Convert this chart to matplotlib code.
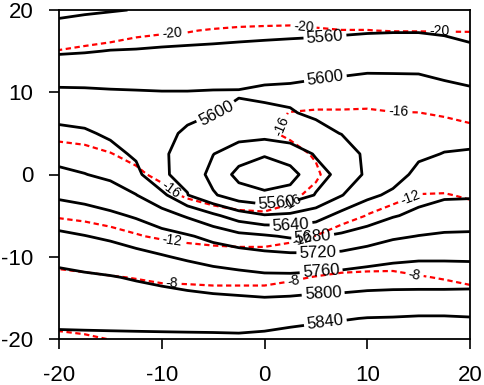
import numpy as np
import matplotlib
matplotlib.use("Agg")
import matplotlib.pyplot as plt

plt.rcParams["font.family"] = ["Liberation Sans", "DejaVu Sans"]
plt.rcParams["axes.unicode_minus"] = False

# grid coordinates (degrees)
lon = [-20, -17.5, -15, -12.5, -10, -7.5, -5, -2.5, 0, 2.5, 5, 7.5, 10, 12.5, 15, 17.5, 20]
lat = [20, 17.5, 15, 12.5, 10, 7.5, 5, 2.5, 0, -2.5, -5, -7.5, -10, -12.5, -15, -17.5, -20]

# geopotential height (gpm), one row per latitude, west -> east
hgt_y20   = [5511, 5515, 5518, 5521, 5524, 5529, 5531, 5532, 5532, 5532, 5533, 5534, 5536, 5537, 5537, 5536, 5530]
hgt_y17_5 = [5533, 5537, 5540, 5542, 5544, 5547, 5549, 5550, 5551, 5552, 5553, 5555, 5557, 5558, 5558, 5555, 5549]
hgt_y15   = [5556, 5558, 5561, 5562, 5564, 5565, 5566, 5568, 5570, 5572, 5574, 5576, 5578, 5578, 5578, 5575, 5568]
hgt_y12_5 = [5581, 5582, 5583, 5583, 5583, 5583, 5584, 5586, 5589, 5592, 5595, 5597, 5599, 5599, 5599, 5594, 5588]
hgt_y10   = [5606, 5605, 5603, 5602, 5601, 5601, 5602, 5602, 5606, 5606, 5608, 5610, 5612, 5610, 5608, 5608, 5605]
hgt_y7_5  = [5628, 5625, 5618, 5612, 5606, 5606, 5601, 5595, 5594, 5598, 5605, 5606, 5614, 5616, 5617, 5619, 5617]
hgt_y5    = [5649, 5645, 5634, 5623, 5607, 5596, 5581, 5578, 5575, 5578, 5590, 5601, 5612, 5618, 5626, 5630, 5630]
hgt_y2_5  = [5667, 5663, 5652, 5634, 5603, 5592, 5561, 5535, 5523, 5540, 5563, 5580, 5608, 5620, 5635, 5641, 5643]
hgt_y0    = [5688, 5681, 5672, 5651, 5603, 5593, 5545, 5510, 5500, 5505, 5548, 5569, 5608, 5627, 5648, 5658, 5659]
hgt_ym2_5 = [5714, 5708, 5698, 5681, 5650, 5601, 5565, 5535, 5526, 5535, 5562, 5598, 5633, 5646, 5667, 5675, 5676]
hgt_ym5   = [5741, 5735, 5727, 5716, 5697, 5675, 5648, 5620, 5603, 5608, 5623, 5653, 5663, 5677, 5689, 5698, 5699]
hgt_ym7_5 = [5767, 5761, 5754, 5744, 5734, 5724, 5709, 5692, 5685, 5675, 5678, 5685, 5696, 5714, 5721, 5725, 5726]
hgt_ym10  = [5791, 5785, 5779, 5771, 5763, 5754, 5745, 5742, 5734, 5731, 5730, 5733, 5745, 5750, 5754, 5754, 5753]
hgt_ym12_5= [5808, 5805, 5802, 5797, 5791, 5784, 5777, 5770, 5767, 5767, 5771, 5775, 5776, 5782, 5783, 5783, 5783]
hgt_ym15  = [5821, 5819, 5817, 5814, 5812, 5809, 5806, 5804, 5801, 5803, 5807, 5808, 5813, 5812, 5812, 5812, 5813]
hgt_ym17_5= [5833, 5832, 5831, 5830, 5829, 5828, 5827, 5825, 5827, 5831, 5835, 5838, 5841, 5842, 5844, 5844, 5842]
hgt_ym20  = [5846, 5846, 5846, 5846, 5846, 5846, 5846, 5846, 5848, 5852, 5854, 5856, 5856, 5856, 5858, 5858, 5856]

# temperature (degC), one column per longitude, north -> south
t_xm20   = [-21.8, -20.9, -19.95, -19.1, -18.2, -17.3, -16.4, -15.4, -14.3, -13.2, -12.2, -10.6, -8.9, -7.4, -6.1, -4.8, -3.5]
t_xm17_5 = [-21.5, -20.6, -19.8, -19.0, -18.2, -17.3, -16.5, -15.6, -14.5, -13.5, -12.4, -11.0, -9.2, -7.6, -6.3, -5.0, -3.7]
t_xm15   = [-21.2, -20.4, -19.7, -18.9, -18.2, -17.5, -16.7, -15.95, -14.9, -13.8, -12.7, -11.4, -9.6, -7.85, -6.6, -5.3, -4.05]
t_xm12_5 = [-21.1, -20.2, -19.6, -19.0, -18.3, -17.7, -17.0, -16.4, -15.7, -14.3, -13.1, -11.85, -10.0, -8.1, -6.8, -5.5, -4.2]
t_xm10   = [-21.0, -20.1, -19.56, -19.0, -18.45, -17.9, -17.3, -16.8, -16.4, -15.4, -13.8, -12.3, -10.4, -8.4, -7.0, -5.7, -4.4]
t_xm7_5  = [-20.9, -20.05, -19.5, -19.0, -18.5, -18.0, -17.5, -17.0, -16.6, -16.3, -14.5, -12.7, -10.6, -8.5, -7.0, -5.7, -4.4]
t_xm5    = [-20.8, -19.93, -19.5, -19.0, -18.55, -18.1, -17.6, -17.2, -16.7, -16.4, -15.6, -13.0, -10.8, -8.6, -7.1, -5.8, -4.5]
t_xm2_5  = [-20.7, -19.85, -19.4, -19.0, -18.55, -18.1, -17.7, -17.3, -16.8, -16.4, -15.85, -13.2, -10.9, -8.6, -7.1, -5.8, -4.5]
t_x0     = [-20.7, -19.8, -19.3, -18.7, -17.8, -16.5, -16.3, -16.6, -16.7, -16.4, -15.9, -13.2, -10.9, -8.6, -7.1, -5.8, -4.5]
t_x2_5   = [-20.6, -19.8, -19.1, -18.2, -17.1, -15.95, -15.7, -16.6, -16.8, -16.4, -15.5, -12.7, -10.5, -8.3, -6.8, -5.5, -4.2]
t_x5     = [-20.6, -19.9, -19.1, -18.0, -16.8, -15.85, -15.4, -15.8, -16.3, -15.5, -13.6, -11.95, -9.9, -7.9, -6.6, -5.3, -4.1]
t_x7_5   = [-20.6, -19.98, -18.9, -17.9, -16.8, -15.85, -15.3, -15.0, -14.7, -13.9, -12.7, -11.1, -9.4, -7.6, -6.5, -5.3, -4.2]
t_x10    = [-20.6, -19.98, -18.9, -17.9, -16.8, -15.8, -15.1, -14.4, -13.6, -12.8, -11.95, -10.3, -9.0, -7.6, -6.5, -5.3, -4.2]
t_x12_5  = [-20.55, -20.04, -18.9, -18.0, -17.0, -15.95, -15.1, -14.2, -13.3, -12.5, -11.4, -10.1, -8.9, -7.6, -6.5, -5.3, -4.2]
t_x15    = [-20.55, -20.04, -19.0, -18.0, -17.0, -15.98, -15.0, -14.0, -13.0, -11.95, -10.9, -9.9, -8.9, -7.9, -6.8, -5.6, -4.4]
t_x17_5  = [-20.5, -20.05, -19.1, -18.1, -17.2, -16.2, -15.2, -14.1, -13.0, -11.9, -11.0, -10.0, -9.1, -8.1, -7.2, -6.0, -4.7]
t_x20    = [-20.5, -20.06, -19.1, -18.2, -17.4, -16.5, -15.5, -14.4, -13.3, -12.2, -11.3, -10.3, -9.3, -8.35, -7.4, -6.2, -4.9]

hgt_levels = [5520, 5560, 5600, 5640, 5680, 5720, 5760, 5800, 5840]
t_levels = [-20, -16, -12, -8, -4]
x_ticks = [-20, -10, 0, 10, 20]
y_ticks = [-20, -10, 0, 10, 20]

hgt = np.array([hgt_y20, hgt_y17_5, hgt_y15, hgt_y12_5, hgt_y10, hgt_y7_5, hgt_y5,
                hgt_y2_5, hgt_y0, hgt_ym2_5, hgt_ym5, hgt_ym7_5, hgt_ym10,
                hgt_ym12_5, hgt_ym15, hgt_ym17_5, hgt_ym20], dtype=float)
tmp = np.array([t_xm20, t_xm17_5, t_xm15, t_xm12_5, t_xm10, t_xm7_5, t_xm5, t_xm2_5,
                t_x0, t_x2_5, t_x5, t_x7_5, t_x10, t_x12_5, t_x15, t_x17_5, t_x20],
               dtype=float).T

X = np.array(lon)
Y = np.array(lat)[::-1]
H = hgt[::-1]
T = tmp[::-1]

fig = plt.figure(figsize=(4.84, 3.85), dpi=100)
ax = fig.add_axes([59 / 484, 1 - 339 / 385, 411 / 484, 329 / 385])

cs_t = ax.contour(X, Y, T, levels=t_levels, colors="red", linewidths=1.6,
                  linestyles="--")
cs_t.set_dashes([(0, (2.4, 1.6))])
cs_h = ax.contour(X, Y, H, levels=hgt_levels, colors="black", linewidths=2.0,
                  linestyles="-")

h_label_pos = [(5.9, 16.5), (5.9, 11.9), (-4.7, 7.5), (1.2, -3.7), (2.6, -6.3),
               (4.7, -7.6), (5.2, -9.4), (5.5, -11.6), (5.7, -14.3), (5.9, -17.8)]
t_label_pos = [(-9.0, 16.9), (3.8, 18.0), (17.0, 17.3), (-9.0, -1.6), (1.5, 6.0),
               (13.0, 7.6), (2.9, -3.8), (-9.0, -8.2), (14.0, -2.2), (3.6, -7.8),
               (-9.0, -13.0), (2.8, -12.8), (14.6, -12.2)]

ax.clabel(cs_h, fmt="%d", fontsize=12, inline=True, inline_spacing=3,
          colors="black", manual=h_label_pos)
ax.clabel(cs_t, fmt="%d", fontsize=10, inline=True, inline_spacing=3,
          colors="black", manual=t_label_pos)

ax.set_xlim(-20, 20)
ax.set_ylim(-20, 20)
ax.set_xticks(x_ticks)
ax.set_yticks(y_ticks)
ax.tick_params(direction="out", length=7.5, width=1.2, labelsize=16, pad=11,
               top=False, right=False)
for s in ax.spines.values():
    s.set_linewidth(1.3)

fig.savefig("out.png", dpi=100)
